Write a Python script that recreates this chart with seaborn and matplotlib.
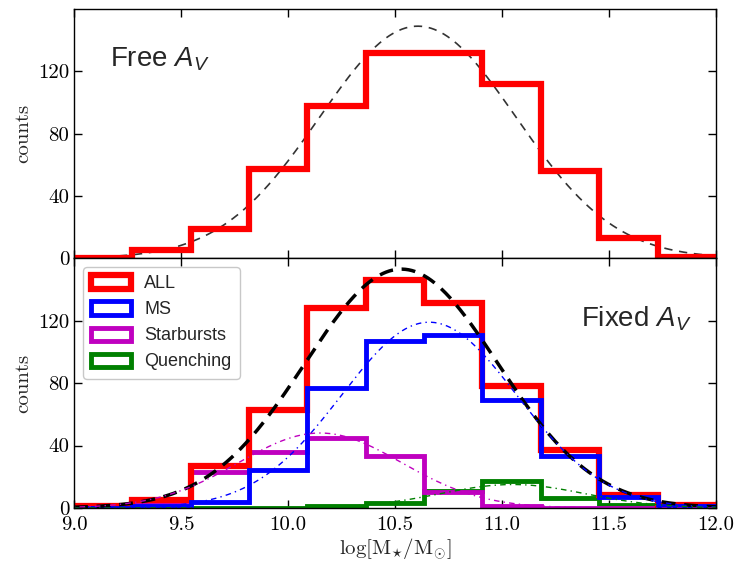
import numpy as np
import pandas as pd
import matplotlib
matplotlib.use("Agg")
import matplotlib.pyplot as plt
from matplotlib.patches import Patch
import seaborn as sns

# ---------------- data ----------------
bin_edges = [9.0, 9.2727, 9.5455, 9.8182, 10.0909, 10.3636, 10.6364,
             10.9091, 11.1818, 11.4545, 11.7273, 12.0]
bin_centers = [(a + b) / 2 for a, b in zip(bin_edges[:-1], bin_edges[1:])]

free_all = [0, 5, 19, 57, 98, 132, 132, 112, 56, 13, 1]
fixed_all = [1, 5, 27, 63, 128, 146, 131, 78, 37, 8, 2]
fixed_ms = [0, 1, 4, 24, 77, 107, 111, 69, 33, 7, 1.5]
fixed_sb = [0.5, 4, 23, 36, 45, 33, 10, 1, 0, 0, 0]
fixed_q = [0, 0, 0, 0, 1, 3, 11, 17, 6.5, 2, 0]

# Gaussian fit parameters (amplitude, mean, sigma)
free_fit = (149, 10.607, 0.46)
all_fit = (153, 10.53, 0.45)
ms_fit = (119, 10.66, 0.41)
sb_fit = (48, 10.15, 0.38)
q_fit = (15, 11.05, 0.34)

legend_labels = ["ALL", "MS", "Starbursts", "Quenching"]
xtick_vals = [9.0, 9.5, 10.0, 10.5, 11.0, 11.5, 12.0]
xtick_labels = ["9.0", "9.5", "10.0", "10.5", "11.0", "11.5", "12.0"]
ytick_vals = [0, 40, 80, 120]
ytick_labels = ["0", "40", "80", "120"]

# ---------------- style ----------------
sns.set_theme(style="ticks")
plt.rcParams["font.family"] = ["cmr10", "DejaVu Serif"]
plt.rcParams["axes.formatter.use_mathtext"] = True
plt.rcParams["mathtext.fontset"] = "custom"
plt.rcParams["mathtext.rm"] = "Liberation Sans"
plt.rcParams["mathtext.it"] = "Liberation Sans:italic"
plt.rcParams["axes.edgecolor"] = "black"
plt.rcParams["axes.linewidth"] = 1.0

RED, BLUE, MAG, GRN = "#ff0000", "#0000ff", "#bf00bf", "#008000"

fig = plt.figure(figsize=(7.38, 5.65), dpi=100)
ax1 = fig.add_axes([0.1003, 0.543, 0.8697, 0.441])
ax2 = fig.add_axes([0.1003, 0.101, 0.8697, 0.442])

grid = np.linspace(9.0, 12.0, 400)


def gauss(p):
    a, m, s = p
    return a * np.exp(-0.5 * ((grid - m) / s) ** 2)


def hist(ax, counts, color, lw):
    sns.histplot(x=bin_centers, weights=counts, bins=bin_edges, element="step",
                 fill=False, color=color, linewidth=lw, ax=ax)
    for ln in ax.lines:
        ln.set_solid_joinstyle("miter")


def curve(ax, p, color, lw, ls):
    sns.lineplot(x=grid, y=gauss(p), color=color, linewidth=lw, linestyle=ls, ax=ax)


# top panel
curve(ax1, free_fit, "#333333", 1.2, (0, (5, 4)))
hist(ax1, free_all, RED, 4.5)
ax1.text(9.17, 128, r"Free $A_V$", fontsize=20, family="Liberation Sans",
         va="center", ha="left")

# bottom panel
hist(ax2, fixed_q, GRN, 3.5)
hist(ax2, fixed_sb, MAG, 3.5)
hist(ax2, fixed_all, RED, 4.5)
hist(ax2, fixed_ms, BLUE, 3.5)
curve(ax2, all_fit, "black", 2.5, (0, (4, 2.5)))
curve(ax2, ms_fit, BLUE, 1.0, (0, (4, 3, 1, 3)))
curve(ax2, sb_fit, MAG, 1.0, (0, (1, 3, 4, 3)))
curve(ax2, q_fit, GRN, 1.0, (0, (4, 3, 1, 3)))
ax2.text(11.37, 121, r"Fixed $A_V$", fontsize=20, family="Liberation Sans",
         va="center", ha="left")

handles = [Patch(facecolor="none", edgecolor=c, linewidth=lw)
           for c, lw in zip([RED, BLUE, MAG, GRN], [4.5, 3.5, 3.5, 3.5])]
leg = ax2.legend(handles, legend_labels, loc="upper left",
                 prop={"family": "Liberation Sans", "size": 13},
                 frameon=True, fancybox=True, handlelength=2.2, handleheight=0.75,
                 borderaxespad=0.5, labelspacing=0.5, handletextpad=0.75,
                 borderpad=0.45)
leg.get_frame().set_edgecolor("#bbbbbb")

for ax in (ax1, ax2):
    ax.set_xlim(9.0, 12.0)
    ax.set_ylim(0, 160)
    ax.set_yticks(ytick_vals, ytick_labels)
    ax.set_xticks(xtick_vals, xtick_labels)
    ax.tick_params(direction="in", top=True, right=True, length=6, width=1,
                   labelsize=15, colors="black")
    ax.tick_params(axis="x", pad=6)
    ax.set_ylabel("counts", fontsize=15, family=["cmr10", "DejaVu Serif"])
    for s in ax.spines.values():
        s.set_visible(True)
        s.set_color("black")

ax1.tick_params(labelbottom=False)
ax1.set_xlabel("")
ax2.set_xlabel(r"$\mathrm{log}[\mathrm{M}_{\star}/\mathrm{M}_{\odot}]$", fontsize=15,
               math_fontfamily="cm", labelpad=2)

fig.savefig("out.png", dpi=100)
